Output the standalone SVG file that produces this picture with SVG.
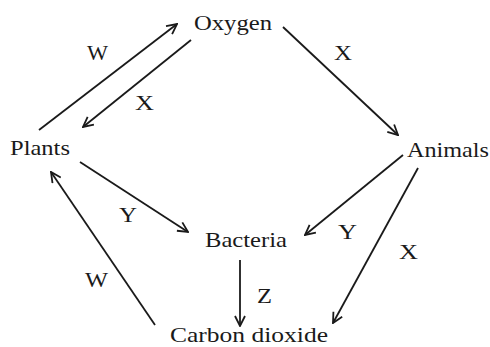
<svg xmlns="http://www.w3.org/2000/svg" width="490" height="347" viewBox="0 0 490 347">
<style>
text{font-family:"Liberation Serif",serif;font-size:22px;fill:#1a1a1a}
.edge{stroke:#1a1a1a;stroke-width:1.8;fill:none;marker-end:url(#ah)}
</style>
<defs>
<marker id="ah" markerUnits="userSpaceOnUse" viewBox="0 0 12 12" refX="11" refY="6" markerWidth="12" markerHeight="12" orient="auto">
<path d="M1,1 L11,6 L1,11" fill="none" stroke="#1a1a1a" stroke-width="1.8"/>
</marker>
</defs>
<rect width="490" height="347" fill="#fff"/>
<g id="oxygen" class="node"><text x="194" y="30" textLength="78" lengthAdjust="spacingAndGlyphs">Oxygen</text></g>
<g id="plants" class="node"><text x="10" y="155" textLength="60" lengthAdjust="spacingAndGlyphs">Plants</text></g>
<g id="animals" class="node"><text x="407" y="157" textLength="82" lengthAdjust="spacingAndGlyphs">Animals</text></g>
<g id="bacteria" class="node"><text x="205" y="247" textLength="82" lengthAdjust="spacingAndGlyphs">Bacteria</text></g>
<g id="carbon-dioxide" class="node"><text x="170" y="342" textLength="158" lengthAdjust="spacingAndGlyphs">Carbon dioxide</text></g>
<g id="connectors">
<line class="edge" x1="39" y1="130" x2="177" y2="24"/>
<line class="edge" x1="191" y1="40" x2="83" y2="127"/>
<line class="edge" x1="283" y1="27" x2="398" y2="135"/>
<line class="edge" x1="80" y1="162" x2="188" y2="232"/>
<line class="edge" x1="403" y1="155" x2="305" y2="235"/>
<line class="edge" x1="418" y1="168" x2="333" y2="323"/>
<line class="edge" x1="240" y1="260" x2="240" y2="326"/>
<line class="edge" x1="155" y1="325" x2="51" y2="172"/>
<text x="87" y="60" textLength="21" lengthAdjust="spacingAndGlyphs">W</text>
<text x="135" y="110" textLength="19" lengthAdjust="spacingAndGlyphs">X</text>
<text x="334" y="60" textLength="18" lengthAdjust="spacingAndGlyphs">X</text>
<text x="119" y="222" textLength="18" lengthAdjust="spacingAndGlyphs">Y</text>
<text x="338" y="239" textLength="19" lengthAdjust="spacingAndGlyphs">Y</text>
<text x="399" y="259" textLength="19" lengthAdjust="spacingAndGlyphs">X</text>
<text x="257" y="303" textLength="15" lengthAdjust="spacingAndGlyphs">Z</text>
<text x="85" y="287" textLength="23" lengthAdjust="spacingAndGlyphs">W</text>
</g>
</svg>
